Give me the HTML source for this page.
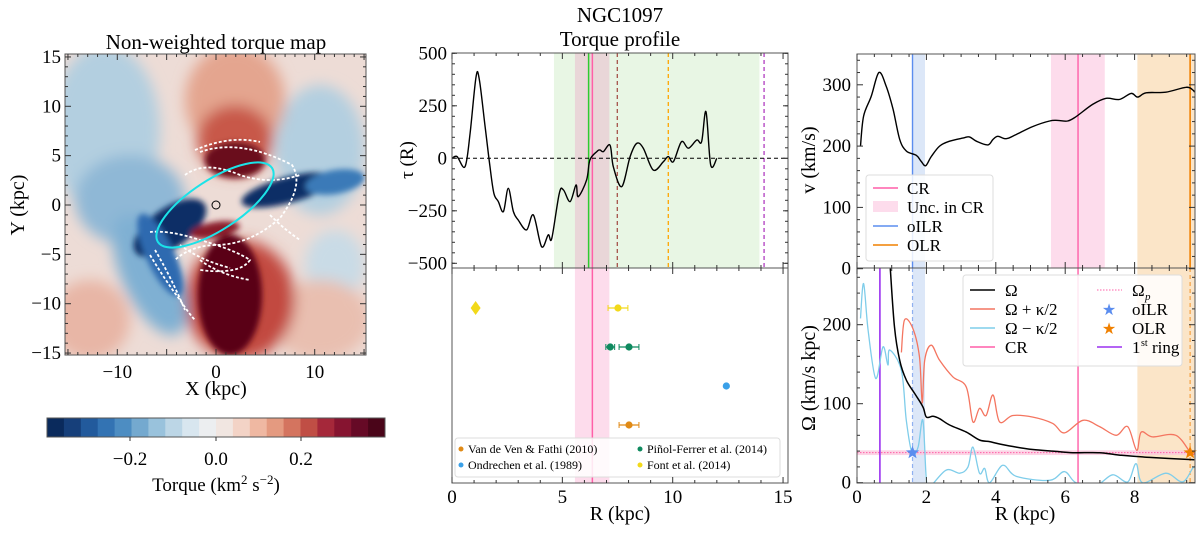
<!DOCTYPE html>
<html><head><meta charset="utf-8"><style>
html,body{margin:0;padding:0;background:#fff;}
svg{display:block;font-family:"Liberation Serif",serif;}
</style></head><body>
<svg id="fig" width="1200" height="533" viewBox="0 0 1200 533" xmlns="http://www.w3.org/2000/svg">
<defs>
<filter id="bl" x="-50%" y="-50%" width="200%" height="200%"><feGaussianBlur stdDeviation="7"/></filter>
<filter id="bl2" x="-50%" y="-50%" width="200%" height="200%"><feGaussianBlur stdDeviation="3"/></filter>
<clipPath id="mapclip"><rect x="65" y="54" width="301" height="301"/></clipPath>
<clipPath id="midTop"><rect x="452" y="53" width="336" height="215"/></clipPath>
<clipPath id="rTop"><rect x="857" y="54" width="338" height="214"/></clipPath>
<clipPath id="rBot"><rect x="857" y="268" width="338" height="215"/></clipPath>
</defs>

<!-- LEFT: torque map -->
<text x="216" y="49" font-size="21" text-anchor="middle">Non-weighted torque map</text>
<g clip-path="url(#mapclip)">
  <rect x="65" y="54" width="301" height="301" fill="#eddcd6"/>
  <g filter="url(#bl)">
    <ellipse cx="105" cy="130" rx="55" ry="85" fill="#b3cfe0"/>
    <ellipse cx="130" cy="200" rx="55" ry="45" fill="#8fb8d6"/>
    <ellipse cx="320" cy="150" rx="45" ry="65" fill="#b3cfe0"/>
    <ellipse cx="335" cy="265" rx="30" ry="35" fill="#c9dbe6"/>
    <ellipse cx="235" cy="100" rx="50" ry="55" fill="#e4a58f"/>
    <ellipse cx="235" cy="140" rx="38" ry="35" fill="#c8594a"/>
    <ellipse cx="90" cy="320" rx="40" ry="40" fill="#e8b6a6"/>
    <ellipse cx="320" cy="320" rx="50" ry="40" fill="#e9bfb0"/>
    <ellipse cx="240" cy="300" rx="55" ry="60" fill="#c24a3f"/>
    <ellipse cx="150" cy="275" rx="28" ry="65" fill="#7fb0d3" transform="rotate(-25 150 275)"/>
  </g>
  <g filter="url(#bl2)">
    <ellipse cx="235" cy="160" rx="30" ry="18" fill="#6b0a1f"/>
    <ellipse cx="230" cy="295" rx="32" ry="60" fill="#5a0618"/>
    <ellipse cx="170" cy="228" rx="42" ry="20" fill="#0d2f66" transform="rotate(-35 170 228)"/>
    <ellipse cx="160" cy="255" rx="14" ry="45" fill="#2d6bb0" transform="rotate(-25 160 255)"/>
    <ellipse cx="288" cy="190" rx="48" ry="13" fill="#0d2f66" transform="rotate(-15 288 190)"/>
    <ellipse cx="335" cy="182" rx="30" ry="12" fill="#3b7ab8" transform="rotate(-10 335 182)"/>
    <ellipse cx="215" cy="230" rx="25" ry="8" fill="#8a1d2a" transform="rotate(-10 215 230)"/>
  </g>
  <g fill="none" stroke="#fff" stroke-width="1.8" stroke-dasharray="3 2">
    <path d="M200 152 Q240 138 292 165 Q305 185 280 218 Q250 245 215 245 Q190 246 175 260"/>
    <path d="M195 150 Q230 135 260 142"/>
    <path d="M185 175 Q205 160 240 175 Q270 185 300 175"/>
    <path d="M150 232 Q170 230 200 240 Q235 250 250 260 Q240 275 200 270"/>
    <path d="M150 255 Q165 280 180 300 Q190 315 195 320"/>
    <path d="M155 250 Q170 275 185 310"/>
    <path d="M180 245 Q200 260 230 268"/>
    <path d="M270 215 Q285 230 300 240"/>
    <path d="M200 260 Q220 275 250 280"/>
  </g>
  <ellipse cx="215" cy="205" rx="68" ry="25" fill="none" stroke="#1be3e8" stroke-width="2" transform="rotate(-33 215 205)"/>
  <circle cx="216" cy="205" r="4" fill="none" stroke="#000" stroke-width="1"/>
</g>
<rect x="65" y="54" width="301" height="301" fill="none" stroke="#555" stroke-width="1"/>
<g id="mapTicks" font-size="19"></g>
<text x="216" y="395" font-size="20" text-anchor="middle">X (kpc)</text>
<text x="24" y="205" font-size="20" text-anchor="middle" transform="rotate(-90 24 205)">Y (kpc)</text>
<g id="cbar"></g>
<text x="216" y="491" font-size="19" text-anchor="middle">Torque (km<tspan dy="-7" font-size="13">2</tspan><tspan dy="7"> s</tspan><tspan dy="-7" font-size="13">−2</tspan><tspan dy="7">)</tspan></text>

<!-- MIDDLE -->
<text x="620" y="22" font-size="21" text-anchor="middle">NGC1097</text>
<text x="620" y="46" font-size="21" text-anchor="middle">Torque profile</text>
<g id="mid"></g>
<text x="413" y="160" font-size="19" text-anchor="middle" transform="rotate(-90 413 160)">τ (R)</text>
<text x="620" y="520" font-size="20" text-anchor="middle">R (kpc)</text>

<!-- RIGHT -->
<g id="right"></g>
<text x="815" y="160" font-size="20" text-anchor="middle" transform="rotate(-90 815 160)">v (km/s)</text>
<text x="815" y="378" font-size="20" text-anchor="middle" transform="rotate(-90 815 378)">Ω (km/s kpc)</text>
<text x="1025" y="520" font-size="20" text-anchor="middle">R (kpc)</text>
</svg>
<script>
// ---- data ----
const torqueR=[0,0.23,0.59,0.82,1.09,1.24,1.5,1.72,1.9,2.1,2.33,2.55,2.78,3.0,3.38,3.69,4.06,4.36,4.52,4.86,5.05,5.35,5.62,5.72,6.1,6.25,6.56,6.7,6.86,7.16,7.31,7.69,8.07,8.37,8.67,9.12,9.58,9.8,10.03,10.4,10.71,11.09,11.31,11.51,11.72,12.0];
const torqueVal=[0,8,-40,119,389,373,151,-40,-167,-206,-254,-143,-254,-294,-341,-270,-421,-365,-381,-167,-151,-206,-127,-183,-103,-8,32,40,32,63,-40,-135,8,71,48,-56,-16,8,-16,79,48,87,79,222,-32,0];
const torqueTicks=[500,250,0,-250,-500];
const midXTicks=[0,5,10,15];
const litR=[1.07,7.52,7.17,8.02,12.43,8.02];
const litErr=[0,0.45,0.2,0.45,0,0.45];
const litRow=[0,0,1,1,2,3];
const litColor=['#f2d91a','#f2d91a','#0f8a5f','#0f8a5f','#3aa0e8','#e08a16'];
const velR=[0.1,0.19,0.41,0.63,0.84,1.04,1.23,1.42,1.71,1.85,1.98,2.14,2.38,2.67,3.05,3.24,3.44,3.77,3.92,4.06,4.3,4.59,5.07,5.55,5.79,6.07,6.31,6.79,7.18,7.56,7.9,8.09,8.33,8.9,9.48,9.67,9.73];
const velV=[200,249,281,320,298,260,211,192,185,175,168,183,200,208,213,215,208,202,211,216,212,219,232,241,242,241,248,268,278,276,286,280,287,288,296,292,288];
const omR=[0.96,1.08,1.23,1.42,1.66,1.9,2.0,2.19,2.38,2.67,3.15,3.53,3.82,4.11,4.59,5.07,5.64,6.22,6.99,7.56,8.43,9.72];
const omV=[271,197,155,130,113,96,83,84,81,73,64,54,52,49,45,42,40,38,38,35,32,29];
const omPR=[1.28,1.37,1.61,1.8,1.88,1.95,2.14,2.38,2.76,3.15,3.34,3.53,3.72,3.92,4.11,4.49,5.07,5.64,5.98,6.51,6.99,7.47,7.8,8.06,8.19,8.52,9.19,9.63,9.73];
const omPV=[165,206,195,159,101,155,174,155,134,121,77,94,85,111,77,85,83,75,63,79,71,60,71,41,64,58,60,37,38];
const omMR=[0.1,0.19,0.32,0.54,0.75,0.89,0.94,1.28,1.42,1.59,1.76,1.9,2.0,2.1,2.57,2.96,3.2,3.34,3.53,3.68,3.82,4.2,4.59,5.55,5.98,6.31,6.9,7.37,7.8,8.04,8.23,8.9,9.38,9.67,9.73];
const omMV=[208,252,193,132,172,149,168,142,79,37,45,79,3,-5,16,12,20,45,12,18,0,22,8,3,14,0,-3,10,1,24,0,12,1,18,20];
const vTicks=[0,100,200,300];
const omTicks=[0,100,200];
const rXTicks=[0,2,4,6,8];
const omegaP=38, CR=6.37, oILR=1.6, OLR=9.6, ring1=0.66;

const NS='http://www.w3.org/2000/svg';
function el(tag,attrs,parent){const e=document.createElementNS(NS,tag);for(const k in attrs)e.setAttribute(k,attrs[k]);parent.appendChild(e);return e;}
function txt(s,attrs,parent){const e=el('text',attrs,parent);e.textContent=s;return e;}
function pathFrom(xs,ys,fx,fy){return xs.map((x,i)=>(i?'L':'M')+fx(x).toFixed(1)+' '+fy(ys[i]).toFixed(1)).join(' ');}
function smooth(xs,ys,fx,fy){const P=xs.map((x,i)=>[fx(x),fy(ys[i])]);let d='M'+P[0][0].toFixed(1)+' '+P[0][1].toFixed(1);
 for(let i=0;i<P.length-1;i++){const p0=P[Math.max(0,i-1)],p1=P[i],p2=P[i+1],p3=P[Math.min(P.length-1,i+2)];
 const c1=[p1[0]+(p2[0]-p0[0])/6,p1[1]+(p2[1]-p0[1])/6],c2=[p2[0]-(p3[0]-p1[0])/6,p2[1]-(p3[1]-p1[1])/6];
 d+='C'+c1[0].toFixed(1)+' '+c1[1].toFixed(1)+' '+c2[0].toFixed(1)+' '+c2[1].toFixed(1)+' '+p2[0].toFixed(1)+' '+p2[1].toFixed(1);}return d;}

// ---- map ticks & colorbar ----
const mt=document.getElementById('mapTicks');
const mx=v=>216+v*9.87, my=v=>205-v*9.87;
[-10,0,10].forEach(v=>{const t=txt((v<0?'−':'')+Math.abs(v),{x:mx(v),y:378,'text-anchor':'middle'},mt);
});
[15,10,5,0,-5,-10,-15].forEach(v=>{const t=txt((v<0?'−':'')+Math.abs(v),{x:61,y:my(v)+6,'text-anchor':'end'},mt);
});
for(let v=-15;v<=15;v+=1){el('line',{x1:mx(v),x2:mx(v),y1:355,y2:v%5?352:349,stroke:'#333'},mt);el('line',{x1:mx(v),x2:mx(v),y1:54,y2:v%5?57:60,stroke:'#333'},mt);
el('line',{x1:65,x2:v%5?68:71,y1:my(v),y2:my(v),stroke:'#333'},mt);el('line',{x1:366,x2:v%5?363:360,y1:my(v),y2:my(v),stroke:'#333'},mt);}
const cb=document.getElementById('cbar');
const cols=['#0a2a5c','#163f7a','#225a9c','#3373b3','#4d8dc2','#74a9cf','#99c2dc','#bcd6e6','#d8e6ef','#eceef0','#f1e6e1','#f3d3c6','#efb8a2','#e49a80','#d4745f','#c04e45','#a5283a','#861430','#660a26','#4a0519'];
const cw=(385-47)/cols.length;
cols.forEach((c,i)=>{el('rect',{x:47+i*cw,y:418,width:cw+0.5,height:19,fill:c},cb);});
el('rect',{x:47,y:418,width:338,height:19,fill:'none',stroke:'#555'},cb);
[[-0.2,130],[0,216],[0.2,301]].forEach(([v,x])=>{el('line',{x1:x,x2:x,y1:437,y2:441,stroke:'#333'},cb);
const t=txt(v<0?'−0.2':v==0?'0.0':'0.2',{x:x,y:465,'font-size':19,'text-anchor':'middle'},cb);
});

// ---- middle ----
const mid=document.getElementById('mid');
const sx=r=>452+r*22.07, sy=t=>158.3-t*0.21;
const L=452,Rr=788;
el('rect',{x:sx(4.62),y:53,width:sx(13.93)-sx(4.62),height:215,fill:'#e8f6e4'},mid);
el('rect',{x:sx(5.57),y:53,width:sx(7.13)-sx(5.57),height:215,fill:'#e9d6d8'},mid);
el('line',{x1:sx(6.19),x2:sx(6.19),y1:53,y2:268,stroke:'#2ecc2e','stroke-width':1.5},mid);
el('line',{x1:sx(6.36),x2:sx(6.36),y1:53,y2:268,stroke:'#ff5fa8','stroke-width':1.5},mid);
el('line',{x1:sx(7.49),x2:sx(7.49),y1:53,y2:268,stroke:'#a5524a','stroke-width':1.3,'stroke-dasharray':'4 3'},mid);
el('line',{x1:sx(9.8),x2:sx(9.8),y1:53,y2:268,stroke:'#ffa500','stroke-width':1.3,'stroke-dasharray':'4 3'},mid);
el('line',{x1:sx(14.14),x2:sx(14.14),y1:53,y2:268,stroke:'#b03cc0','stroke-width':1.3,'stroke-dasharray':'4 3'},mid);
el('line',{x1:L,x2:Rr,y1:sy(0),y2:sy(0),stroke:'#000','stroke-width':1,'stroke-dasharray':'4 3'},mid);
const tp=el('path',{d:smooth(torqueR,torqueVal,sx,sy),fill:'none',stroke:'#000','stroke-width':1.4,'clip-path':'url(#midTop)'},mid);


// bottom middle
el('rect',{x:sx(5.57),y:268,width:sx(7.13)-sx(5.57),height:215,fill:'#fddcec'},mid);
el('line',{x1:sx(6.36),x2:sx(6.36),y1:268,y2:483,stroke:'#ff5fa8','stroke-width':1.5},mid);
const rowY=[308,347,386,425];
litR.forEach((r,i)=>{const y=rowY[litRow[i]];
 if(litErr[i]>0){el('line',{x1:sx(r-litErr[i]),x2:sx(r+litErr[i]),y1:y,y2:y,stroke:litColor[i],'stroke-width':1.3},mid);
  el('line',{x1:sx(r-litErr[i]),x2:sx(r-litErr[i]),y1:y-3,y2:y+3,stroke:litColor[i]},mid);
  el('line',{x1:sx(r+litErr[i]),x2:sx(r+litErr[i]),y1:y-3,y2:y+3,stroke:litColor[i]},mid);}
 let m;
 if(i===0){m=el('path',{d:`M${sx(r)} ${y-7} L${sx(r)+5} ${y} L${sx(r)} ${y+7} L${sx(r)-5} ${y} Z`,fill:litColor[i]},mid);}
 else m=el('circle',{cx:sx(r),cy:y,r:3.6,fill:litColor[i]},mid);
 
 
});
const lg=el('g',{},mid);


el('rect',{x:455,y:438,width:325,height:39,rx:3,fill:'#fff','fill-opacity':0.85,stroke:'#ddd'},lg);
[['Van de Ven & Fathi (2010)','#e08a16',461,453],['Ondrechen et al. (1989)','#3aa0e8',461,469],['Piñol-Ferrer et al. (2014)','#0f8a5f',640,453],['Font et al. (2014)','#f2d91a',640,469]].forEach(([s,c,x,y])=>{
 el('circle',{cx:x,cy:y-4,r:2.5,fill:c},lg);txt(s,{x:x+7,y:y,'font-size':12},lg);});
el('rect',{x:L,y:53,width:Rr-L,height:215,fill:'none',stroke:'#555'},mid);
el('rect',{x:L,y:268,width:Rr-L,height:215,fill:'none',stroke:'#555'},mid);
torqueTicks.forEach(v=>{const t=txt((v<0?'−':'')+Math.abs(v),{x:447,y:sy(v)+6,'font-size':19,'text-anchor':'end'},mid);
 
 el('line',{x1:L,x2:L+5,y1:sy(v),y2:sy(v),stroke:'#333'},mid);el('line',{x1:Rr,x2:Rr-5,y1:sy(v),y2:sy(v),stroke:'#333'},mid);});
for(let v=-500;v<=500;v+=50){el('line',{x1:L,x2:L+3,y1:sy(v),y2:sy(v),stroke:'#333'},mid);el('line',{x1:Rr,x2:Rr-3,y1:sy(v),y2:sy(v),stroke:'#333'},mid);}
for(let r=0;r<=15;r+=1){const big=r%5===0,h=big?6:3;
 [53,268].forEach(y0=>{el('line',{x1:sx(r),x2:sx(r),y1:y0,y2:y0+h,stroke:'#333'},mid);});
 [268,483].forEach(y0=>{el('line',{x1:sx(r),x2:sx(r),y1:y0,y2:y0-h,stroke:'#333'},mid);});}
midXTicks.forEach(v=>{const t=txt(String(v),{x:sx(v),y:503,'font-size':19,'text-anchor':'middle'},mid);
 });

// ---- right ----
const rg=document.getElementById('right');
const rx=r=>857+r*34.7, vy=v=>268.7-v*0.613, oy=o=>482.7-o*0.79;
const RL=857,RR=1195;
el('rect',{x:rx(1.6),y:54,width:rx(1.96)-rx(1.6),height:214,fill:'#dce7f8'},rg);
el('rect',{x:rx(5.59),y:54,width:rx(7.14)-rx(5.59),height:214,fill:'#fddcec'},rg);
el('rect',{x:rx(8.08),y:54,width:RR-rx(8.08),height:214,fill:'#fbe5c8'},rg);
el('line',{x1:rx(oILR),x2:rx(oILR),y1:54,y2:268,stroke:'#5b8def','stroke-width':1.4},rg);
el('line',{x1:rx(CR),x2:rx(CR),y1:54,y2:268,stroke:'#ff5fa8','stroke-width':1.4},rg);
el('line',{x1:rx(OLR),x2:rx(OLR),y1:54,y2:268,stroke:'#f08000','stroke-width':1.6},rg);
const vp=el('path',{d:smooth(velR,velV,rx,vy),fill:'none',stroke:'#000','stroke-width':1.4,'clip-path':'url(#rTop)'},rg);


const lg1=el('g',{},rg);


el('rect',{x:866,y:175,width:127,height:86,rx:3,fill:'#fff','fill-opacity':0.85,stroke:'#ddd'},lg1);
el('line',{x1:873,x2:898,y1:188,y2:188,stroke:'#ff5fa8','stroke-width':1.5},lg1);txt('CR',{x:907,y:194,'font-size':17},lg1);
el('rect',{x:873,y:201,width:25,height:11,fill:'#fddcec'},lg1);txt('Unc. in CR',{x:907,y:213,'font-size':17},lg1);
el('line',{x1:873,x2:898,y1:226,y2:226,stroke:'#5b8def','stroke-width':1.5},lg1);txt('oILR',{x:907,y:232,'font-size':17},lg1);
el('line',{x1:873,x2:898,y1:245,y2:245,stroke:'#f08000','stroke-width':1.5},lg1);txt('OLR',{x:907,y:251,'font-size':17},lg1);
el('rect',{x:rx(1.6),y:268,width:rx(1.96)-rx(1.6),height:215,fill:'#dce7f8'},rg);
el('rect',{x:rx(8.08),y:268,width:RR-rx(8.08),height:215,fill:'#fbe5c8'},rg);
el('rect',{x:RL,y:oy(omegaP+3),width:RR-RL,height:oy(omegaP-3)-oy(omegaP+3),fill:'#fbc9df','fill-opacity':0.8},rg);
el('line',{x1:RL,x2:RR,y1:oy(omegaP),y2:oy(omegaP),stroke:'#ff5fa8','stroke-width':1,'stroke-dasharray':'1.5 1.5'},rg);
el('line',{x1:rx(oILR),x2:rx(oILR),y1:268,y2:483,stroke:'#8fb0f0','stroke-width':1.2,'stroke-dasharray':'4 3'},rg);
el('line',{x1:rx(OLR),x2:rx(OLR),y1:268,y2:483,stroke:'#f5a040','stroke-width':1.2,'stroke-dasharray':'4 3'},rg);
el('line',{x1:rx(CR),x2:rx(CR),y1:268,y2:483,stroke:'#ff5fa8','stroke-width':1.4},rg);
el('line',{x1:rx(ring1),x2:rx(ring1),y1:268,y2:483,stroke:'#9b30f0','stroke-width':1.6},rg);
const pM=el('path',{d:smooth(omMR,omMV,rx,oy),fill:'none',stroke:'#7fcdea','stroke-width':1.3,'clip-path':'url(#rBot)'},rg);


const pP=el('path',{d:smooth(omPR,omPV,rx,oy),fill:'none',stroke:'#f47560','stroke-width':1.3,'clip-path':'url(#rBot)'},rg);


const pO=el('path',{d:smooth(omR,omV,rx,oy),fill:'none',stroke:'#000','stroke-width':1.5,'clip-path':'url(#rBot)'},rg);


function star(cx,cy,r,fill){let d='';for(let i=0;i<10;i++){const a=-Math.PI/2+i*Math.PI/5,rr=i%2?r*0.42:r;d+=(i?'L':'M')+(cx+rr*Math.cos(a)).toFixed(1)+' '+(cy+rr*Math.sin(a)).toFixed(1);}return el('path',{d:d+'Z',fill:fill},rg);}
const s1=star(rx(oILR),oy(omegaP),7,'#5b8def');


const s2=star(rx(OLR),oy(omegaP),7,'#f08000');


const lg2=el('g',{},rg);


el('rect',{x:963,y:275,width:219,height:91,rx:3,fill:'#fff','fill-opacity':0.85,stroke:'#ddd'},lg2);
[['Ω','#000',290],['Ω + κ/2','#f47560',309],['Ω − κ/2','#7fcdea',328],['CR','#ff5fa8',347]].forEach(([s,c,y])=>{
 el('line',{x1:970,x2:995,y1:y,y2:y,stroke:c,'stroke-width':1.5},lg2);txt(s,{x:1005,y:y+6,'font-size':17},lg2);});
el('line',{x1:1097,x2:1122,y1:290,y2:290,stroke:'#ff5fa8','stroke-dasharray':'1.5 1.5'},lg2);
txt('Ω',{x:1132,y:296,'font-size':17},lg2);txt('p',{x:1145,y:300,'font-size':11,'font-style':'italic'},lg2);
txt('★',{x:1109,y:315,'font-size':16,fill:'#5b8def','text-anchor':'middle'},lg2);txt('oILR',{x:1132,y:315,'font-size':17},lg2);
txt('★',{x:1109,y:334,'font-size':16,fill:'#f08000','text-anchor':'middle'},lg2);txt('OLR',{x:1132,y:334,'font-size':17},lg2);
el('line',{x1:1097,x2:1122,y1:347,y2:347,stroke:'#9b30f0','stroke-width':1.5},lg2);
txt('1',{x:1132,y:353,'font-size':17},lg2);txt('st',{x:1141,y:346,'font-size':10},lg2);txt('ring',{x:1152,y:353,'font-size':17},lg2);
el('rect',{x:RL,y:54,width:RR-RL,height:214,fill:'none',stroke:'#555'},rg);
el('rect',{x:RL,y:268,width:RR-RL,height:215,fill:'none',stroke:'#555'},rg);
vTicks.forEach(v=>{const t=txt(String(v),{x:851,y:vy(v)+6,'font-size':19,'text-anchor':'end'},rg);
 });
for(let v=0;v<=350;v+=20){const h=v%100?3:6;el('line',{x1:RL,x2:RL+h,y1:vy(v),y2:vy(v),stroke:'#333'},rg);el('line',{x1:RR,x2:RR-h,y1:vy(v),y2:vy(v),stroke:'#333'},rg);}
omTicks.forEach(v=>{const t=txt(String(v),{x:851,y:oy(v)+6,'font-size':19,'text-anchor':'end'},rg);
 });
for(let v=0;v<=260;v+=20){const h=v%100?3:6;el('line',{x1:RL,x2:RL+h,y1:oy(v),y2:oy(v),stroke:'#333'},rg);el('line',{x1:RR,x2:RR-h,y1:oy(v),y2:oy(v),stroke:'#333'},rg);}
for(let r=0;r<=9.7;r+=0.5){const big=Math.abs(r%2)<1e-6,h=big?6:3;
 [54,268].forEach(y0=>el('line',{x1:rx(r),x2:rx(r),y1:y0,y2:y0+h,stroke:'#333'},rg));
 [268,483].forEach(y0=>el('line',{x1:rx(r),x2:rx(r),y1:y0,y2:y0-h,stroke:'#333'},rg));}
rXTicks.forEach(v=>{const t=txt(String(v),{x:rx(v),y:503,'font-size':19,'text-anchor':'middle'},rg);
 });
</script>
</body></html>
